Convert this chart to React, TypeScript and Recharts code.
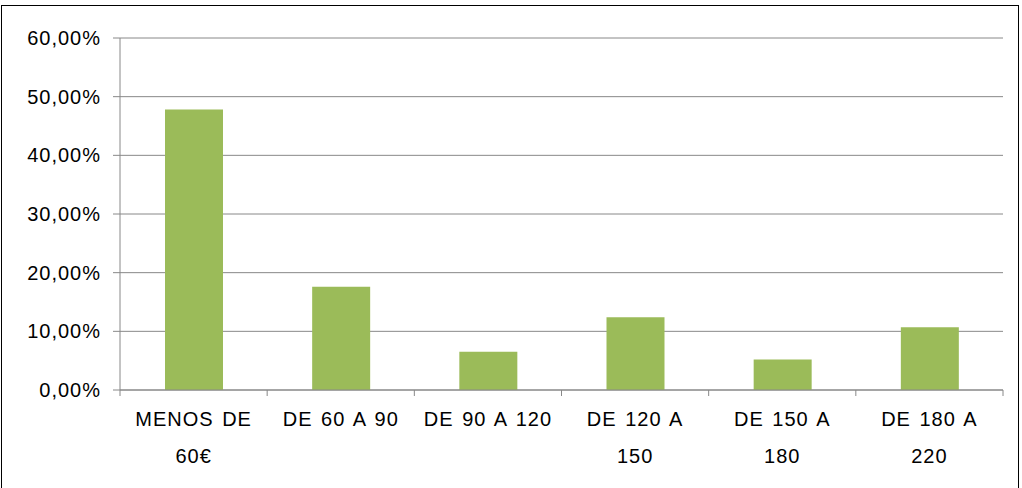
import { BarChart, Bar, XAxis, YAxis, CartesianGrid } from "recharts"

const categories = ["MENOS DE|60€", "DE 60 A 90", "DE 90 A 120", "DE 120 A|150", "DE 150 A|180", "DE 180 A|220"]
const values = [47.8, 17.6, 6.5, 12.4, 5.2, 10.7]
const yTicks = [0, 10, 20, 30, 40, 50, 60]

const data = categories.map((c, i) => ({ name: c, value: values[i] }))
const FONT = "'Liberation Sans', Arial, sans-serif"
const BAND = 883 / 6

const XTick = (props: any) => {
  const { x, y, payload } = props
  const lines = String(payload.value).split("|")
  return (
    <g>
      <line x1={x - BAND / 2} x2={x - BAND / 2} y1={y - 8} y2={y - 2} stroke="#888" />
      {payload.index === categories.length - 1 && (
        <line x1={x + BAND / 2} x2={x + BAND / 2} y1={y - 8} y2={y - 2} stroke="#888" />
      )}
      {lines.map((l, i) => (
        <text key={i} x={x} y={y + 28 + i * 37} textAnchor="middle" fontSize={20} letterSpacing={1} wordSpacing={2} fill="#000" fontFamily={FONT}>
          {l}
        </text>
      ))}
    </g>
  )
}

const YTick = (props: any) => {
  const { x, y, payload } = props
  return (
    <text x={x - 10} y={y + 7} textAnchor="end" fontSize={20} letterSpacing={1} fill="#000" fontFamily={FONT}>
      {payload.value.toFixed(2).replace(".", ",") + "%"}
    </text>
  )
}

export default function App() {
  return (
    <div style={{ position: "absolute", left: 0, top: 0, width: 1022, height: 488, background: "#fff" }}>
      <div style={{ position: "absolute", left: 1, top: 5, width: 1016, height: 490, border: "1px solid #000" }} />
      <BarChart
        width={1022}
        height={488}
        data={data}
        margin={{ top: 38, right: 19, left: 0, bottom: 68 }}
        barCategoryGap="30%"
        style={{ position: "absolute", left: 0, top: 0 }}
      >
        <CartesianGrid vertical={false} stroke="#888" strokeWidth={1} />
        <XAxis dataKey="name" interval={0} tick={<XTick />} tickLine={false} axisLine={{ stroke: "#888" }} />
        <YAxis
          width={120}
          domain={[0, 60]}
          ticks={yTicks}
          interval={0}
          tick={<YTick />}
          tickLine={{ stroke: "#888" }}
          tickSize={7}
          axisLine={{ stroke: "#888" }}
        />
        <Bar dataKey="value" fill="#9BBB59" barSize={58} isAnimationActive={false} />
      </BarChart>
    </div>
  )
}
